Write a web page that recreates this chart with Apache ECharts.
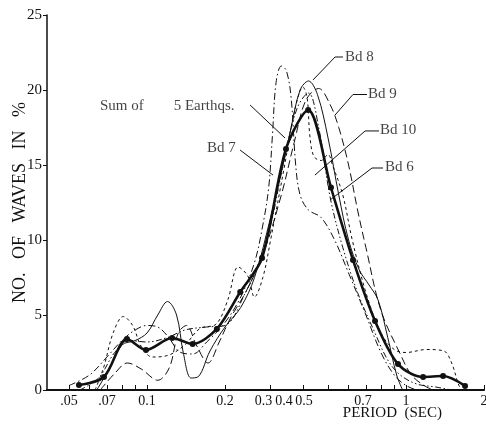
<!DOCTYPE html>
<html>
<head>
<meta charset="utf-8">
<script src="https://cdn.jsdelivr.net/npm/echarts@6/dist/echarts.min.js"></script>
<style>
  html, body { margin: 0; padding: 0; background: #fff; }
  #chart { width: 486px; height: 427px; }
</style>
</head>
<body>
<div id="chart"></div>
<script>
// period (sec), % of waves
var sumWaves = [[0.0546,0.33],[0.0682,0.87],[0.0837,3.4],[0.0991,2.67],[0.125,3.47],[0.150,3.07],[0.186,4.07],[0.229,6.53],[0.278,8.8],[0.344,16.07],[0.419,18.67],[0.513,13.5],[0.624,8.67],[0.759,4.6],[0.931,1.73],[1.164,0.87],[1.39,0.93],[1.69,0.27]];
var bd6 = [[0.055,0],[0.065,0.8],[0.075,2.5],[0.085,3.3],[0.1,3.2],[0.12,3.5],[0.14,4],[0.17,4.2],[0.2,4.3],[0.24,6.5],[0.27,8.5],[0.3,11],[0.34,15.5],[0.38,18.8],[0.42,19.8],[0.46,17.5],[0.51,12.8],[0.57,9.5],[0.65,6.5],[0.75,4],[0.85,2],[0.95,1.0],[1.1,0.4],[1.3,0.2],[1.5,0]];
var bd7 = [[0.05,0.3],[0.06,1],[0.07,2.2],[0.08,3.3],[0.09,4.0],[0.1,4.3],[0.11,4.2],[0.12,3.6],[0.135,2.5],[0.15,2.4],[0.17,3.2],[0.2,4.5],[0.23,6.2],[0.26,8.5],[0.28,11],[0.295,13.5],[0.305,17],[0.315,20.5],[0.33,21.6],[0.345,21.3],[0.36,19.5],[0.375,15],[0.39,13],[0.42,12],[0.47,11.5],[0.53,10],[0.6,7.8],[0.7,5],[0.8,2.5],[0.9,1.0],[1.0,0.3],[1.1,0]];
var bd8 = [[0.064,0],[0.072,1.5],[0.08,3],[0.09,3.3],[0.1,3.8],[0.11,5],[0.12,5.9],[0.13,5],[0.138,2.5],[0.148,0.8],[0.158,0.9],[0.175,2.6],[0.2,4.2],[0.23,5.5],[0.26,7.5],[0.3,11.5],[0.33,14.5],[0.36,17.5],[0.39,20],[0.42,20.6],[0.455,19.7],[0.5,16.8],[0.55,13],[0.6,10],[0.66,8],[0.72,7],[0.78,6],[0.85,3.5],[0.92,1],[0.97,0]];
var bd9 = [[0.066,0],[0.075,1.1],[0.084,1.8],[0.095,1.4],[0.11,0.65],[0.122,1.5],[0.132,3.8],[0.142,4.3],[0.155,3.0],[0.172,1.8],[0.19,3.2],[0.21,4.8],[0.24,6.5],[0.28,9],[0.33,13],[0.37,16.5],[0.41,19.3],[0.46,20.1],[0.51,19],[0.55,17.5],[0.6,15],[0.65,12],[0.7,9.5],[0.8,5.3],[0.95,2.4],[1.05,1.0],[1.2,0.2],[1.3,0]];
var bd10 = [[0.063,0],[0.068,1.5],[0.074,3.8],[0.081,4.9],[0.088,4.3],[0.095,2.9],[0.105,2.2],[0.12,2.3],[0.14,3.0],[0.16,4.1],[0.185,4.4],[0.205,6],[0.225,8.2],[0.245,7.6],[0.26,6.2],[0.28,7.5],[0.3,10],[0.34,15],[0.37,18.5],[0.4,20.2],[0.415,19.5],[0.425,17],[0.44,15.6],[0.47,15.3],[0.5,15.7],[0.52,15],[0.57,13],[0.62,10],[0.7,6.5],[0.8,3.8],[0.9,2.7],[1.0,2.5],[1.2,2.7],[1.4,2.6],[1.5,1.8],[1.6,0.3],[1.65,0]];

var tickPeriods = [0.05,0.06,0.07,0.08,0.09,0.1,0.2,0.3,0.4,0.5,0.6,0.7,0.8,0.9,1,2];
var labelPeriods = [0.05,0.07,0.1,0.2,0.3,0.4,0.5,0.7,1,2];
var labelTexts = ['.05','.07','0.1','0.2','0.3','0.4','0.5','0.7','1','2'];

var noteTexts = ['Sum of        5 Earthqs.','Bd 7','Bd 8','Bd 9','Bd 10','Bd 6'];

// where the notes sit, in (period, %)
var noteAt = [[0.0658,18.93],[0.1705,16.1],[0.581,22.2],[0.713,19.73],[0.794,17.33],[0.830,14.87]];
var noteLeaders = [
    [[0.25,19],[0.341,16.8]],
    [[0.2287,16.0],[0.3065,14.33]],
    [[0.571,22.2],[0.532,22.2],[0.4375,20.67]],
    [[0.707,19.7],[0.624,19.7],[0.532,18.33]],
    [[0.787,17.27],[0.695,17.27],[0.445,14.33]],
    [[0.815,14.8],[0.739,14.8],[0.509,12.67]]
];
// label nudges (px) to mimic crowded label placement of the original
var labelNudge = {0.3: 14, 0.4: 38, 0.5: 48, 0.7: 6};

var ink = '#111';
var serif = 'Liberation Serif';

var chart = echarts.init(document.getElementById('chart'));

function curve(name, data, dash, width) {
    return {
        name: name, type: 'line', data: data, smooth: 0.35,
        showSymbol: false, silent: true,
        lineStyle: { color: ink, width: width || 1, type: dash || 'solid' }
    };
}

var rich = {};
labelPeriods.forEach(function (p, i) {
    rich['l' + i] = { padding: [0, labelNudge[p] || 0, 0, 0], fontFamily: serif, fontSize: 14, color: ink };
});

var option = {
    animation: false,
    backgroundColor: '#fff',
    grid: { left: 47, right: 2, top: 15, bottom: 37, containLabel: false, outerBoundsMode: 'none' },
    xAxis: {
        type: 'log', min: 0.0411, max: 2,
        name: 'PERIOD  (SEC)', nameLocation: 'end', nameGap: -42, nameMoveOverlap: false,
        nameTextStyle: { fontFamily: serif, fontSize: 15, color: ink, align: 'right', verticalAlign: 'top', padding: [16, 0, 0, 0] },
        axisLine: { show: true, lineStyle: { color: ink, width: 2 } },
        axisTick: { show: true, inside: true, length: 5, customValues: tickPeriods, lineStyle: { color: ink } },
        minorTick: { show: false },
        splitLine: { show: false },
        axisLabel: {
            customValues: labelPeriods, margin: 4, hideOverlap: false,
            formatter: function (v) {
                for (var i = 0; i < labelPeriods.length; i++) {
                    if (Math.abs(labelPeriods[i] - v) < 1e-6) return '{l' + i + '|' + labelTexts[i] + '}';
                }
                return '';
            },
            rich: rich
        }
    },
    yAxis: {
        type: 'value', min: 0, max: 25, interval: 5,
        name: 'NO.   OF   WAVES   IN   %', nameLocation: 'middle', nameGap: 18, nameRotate: 90, nameMoveOverlap: false,
        nameTextStyle: { fontFamily: serif, fontSize: 18, color: ink },
        axisLine: { show: true, lineStyle: { color: ink, width: 1.5 } },
        axisTick: { show: true, length: 4, lineStyle: { color: ink } },
        splitLine: { show: false },
        axisLabel: { fontFamily: serif, fontSize: 15, color: ink, margin: 5 }
    },
    series: [
        curve('Bd 6', bd6, [6, 2.5, 1.5, 2.5, 1.5, 2.5]),
        curve('Bd 7', bd7, [7, 3, 1.5, 3]),
        curve('Bd 8', bd8, 'solid'),
        curve('Bd 9', bd9, [8, 4]),
        curve('Bd 10', bd10, [3, 3]),
        {
            name: 'Sum of 5 Earthqs.', type: 'line', data: sumWaves, smooth: 0.3,
            symbol: 'circle', symbolSize: 6, showAllSymbol: true, silent: true,
            itemStyle: { color: ink }, lineStyle: { color: ink, width: 2.6 }, z: 4
        },
        {
            type: 'lines', coordinateSystem: 'cartesian2d', polyline: true, silent: true,
            symbol: ['none', 'arrow'], symbolSize: 5,
            lineStyle: { color: ink, width: 1, opacity: 1 },
            data: noteLeaders.map(function (c) { return { coords: c }; }), z: 5
        },
        {
            type: 'scatter', symbolSize: 0, silent: true, z: 6,
            data: noteAt.map(function (p, i) { return { value: p, name: noteTexts[i] }; }),
            label: {
                show: true, position: 'right', distance: 0,
                formatter: function (d) { return d.name; },
                fontFamily: serif, fontSize: 15, color: ink
            }
        }
    ]
};
chart.setOption(option);
</script>
</body>
</html>
